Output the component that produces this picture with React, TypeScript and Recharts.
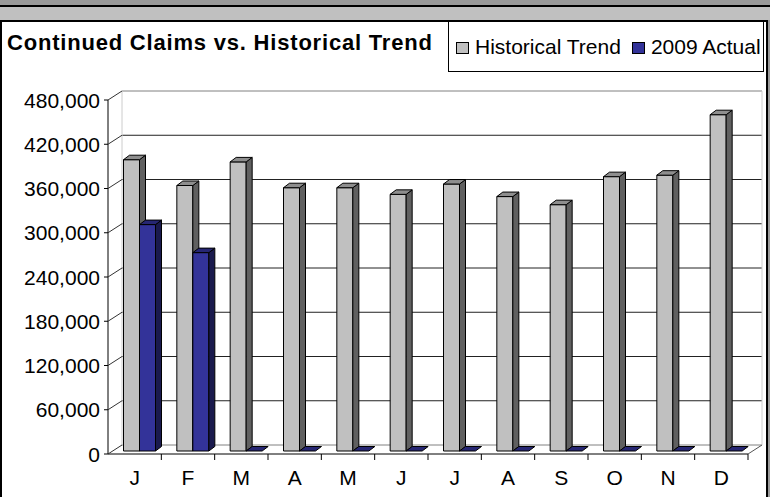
import { Bar, BarChart, CartesianGrid, XAxis, YAxis } from 'recharts'

const months = ['J', 'F', 'M', 'A', 'M', 'J', 'J', 'A', 'S', 'O', 'N', 'D']
const historicalTrend = [395000, 360000, 392000, 357000, 357000, 348000, 362000, 345000, 334000, 372000, 374000, 456000]
const actual2009 = [307000, 269000, 0, 0, 0, 0, 0, 0, 0, 0, 0, 0]
const yTicks = [0, 60000, 120000, 180000, 240000, 300000, 360000, 420000, 480000]
const seriesNames = ['Historical Trend', '2009 Actual']
const title = 'Continued Claims vs. Historical Trend'

const FONT = '"Liberation Sans", Arial, sans-serif'
// depth of the 3d box, and how far the bar row sits behind the front plane
const DX = 6
const DY = 4.5
const SX = 4.5
const SY = -3

const faces = {
  hist: { front: '#c0c0c0', side: '#606060', top: '#8e8e8e' },
  actual: { front: '#333399', side: '#1a1a4d', top: '#262673' },
}

function Box3D({ x, y, width, height, colors }: any) {
  const l = x + SX
  const r = x + width + SX
  const t = y + SY
  const b = y + height + SY
  return (
    <g stroke="#000" strokeWidth={1} strokeLinejoin="round">
      {height > 0 && <rect x={l} y={t} width={width} height={height} fill={colors.front} />}
      {height > 0 && (
        <polygon points={`${r},${t} ${r + DX},${t - DY} ${r + DX},${b - DY} ${r},${b}`} fill={colors.side} />
      )}
      <polygon points={`${l},${t} ${l + DX},${t - DY} ${r + DX},${t - DY} ${r},${t}`} fill={colors.top} />
    </g>
  )
}

function ValueTick({ x, y, payload }: any) {
  return (
    <g>
      <line x1={x + 8} y1={y} x2={x + 22} y2={y - 9} stroke="#333" />
      <text x={x} y={y} dy="0.36em" textAnchor="end" fontSize={21} fontFamily={FONT} fill="#000">
        {Number(payload.value).toLocaleString('en-US')}
      </text>
    </g>
  )
}

function MonthTick({ x, y, payload, index, visibleTicksCount }: any) {
  const half = payload.offset ?? 0
  const last = index === visibleTicksCount - 1
  return (
    <g>
      <line x1={x + half} y1={y} x2={x + half} y2={y + 6} stroke="#000" />
      {last && <line x1={x + half} y1={y} x2={x + half + 14} y2={y - 9} stroke="#555" />}
      <text x={x} y={y + 31} textAnchor="middle" fontSize={21} fontFamily={FONT} fill="#000">
        {payload.value}
      </text>
    </g>
  )
}

function GridLine(props: any) {
  const { x1, y1, x2, y2, index } = props
  const edge = index === 0 || index === yTicks.length - 1
  return <line x1={x1} y1={y1} x2={x2} y2={y2} stroke={edge ? '#808080' : '#222'} strokeWidth={1} />
}

export default function App() {
  const data = months.map((m, i) => ({ month: m, hist: historicalTrend[i], actual: actual2009[i] }))
  const legendColors = [faces.hist.front, faces.actual.front]

  return (
    <div style={{ position: 'absolute', left: 0, top: 0, width: 770, height: 497, background: '#9a9a9a', overflow: 'hidden' }}>
      <style>{'.recharts-cartesian-grid{transform:translate(14px,-9px)}'}</style>
      <div style={{ position: 'absolute', left: 0, top: 5, width: 770, height: 2, background: '#000' }} />
      <div style={{ position: 'absolute', left: 0, top: 7, width: 770, height: 13, background: '#c0c0c0' }} />
      <div
        style={{
          position: 'absolute', left: 0, top: 20, width: 768, height: 490,
          border: '2px solid #000', boxSizing: 'border-box', background: '#fff',
        }}
      />
      <div
        style={{
          position: 'absolute', left: 7, top: 32, fontFamily: FONT, fontWeight: 'bold',
          fontSize: 22, lineHeight: '22px', letterSpacing: 0.8, color: '#000', whiteSpace: 'nowrap',
        }}
      >
        {title}
      </div>
      <div
        style={{
          position: 'absolute', left: 448, top: 21, width: 316, height: 51, border: '1px solid #000',
          boxSizing: 'border-box', background: '#fff', display: 'flex', alignItems: 'center', paddingLeft: 7,
          fontFamily: FONT, fontSize: 21, whiteSpace: 'nowrap',
        }}
      >
        {seriesNames.map((name, i) => (
          <span key={name} style={{ display: 'inline-flex', alignItems: 'center', marginRight: i === 0 ? 11 : 0 }}>
            <span
              style={{
                width: 13, height: 12, border: '1px solid #000', boxSizing: 'border-box',
                background: legendColors[i], marginRight: 6, marginTop: 2,
              }}
            />
            <span style={{ lineHeight: '21px' }}>{name}</span>
          </span>
        ))}
      </div>
      <div style={{ position: 'absolute', left: 0, top: 0 }}>
        <BarChart
          width={770}
          height={497}
          data={data}
          margin={{ top: 100, right: 22, bottom: 0, left: 0 }}
          barGap={0}
          barSize={16}
        >
          <CartesianGrid
            horizontal={GridLine}
            vertical={{ stroke: '#808080' }}
            verticalCoordinatesGenerator={({ offset }: any) => [offset.left, offset.left + offset.width]}
          />
          <XAxis
            dataKey="month"
            height={43}
            axisLine={{ stroke: '#000' }}
            tickLine={false}
            tickSize={0}
            tickMargin={0}
            interval={0}
            tick={<MonthTick />}
          />
          <YAxis
            width={108}
            domain={[0, 480000]}
            ticks={yTicks}
            interval={0}
            axisLine={{ stroke: '#000' }}
            tickLine={{ stroke: '#000' }}
            tickSize={4}
            tickMargin={4}
            tick={<ValueTick />}
          />
          <Bar dataKey="hist" name={seriesNames[0]} isAnimationActive={false} shape={(p: any) => <Box3D {...p} colors={faces.hist} />} />
          <Bar dataKey="actual" name={seriesNames[1]} isAnimationActive={false} shape={(p: any) => <Box3D {...p} colors={faces.actual} />} />
        </BarChart>
      </div>
    </div>
  )
}
